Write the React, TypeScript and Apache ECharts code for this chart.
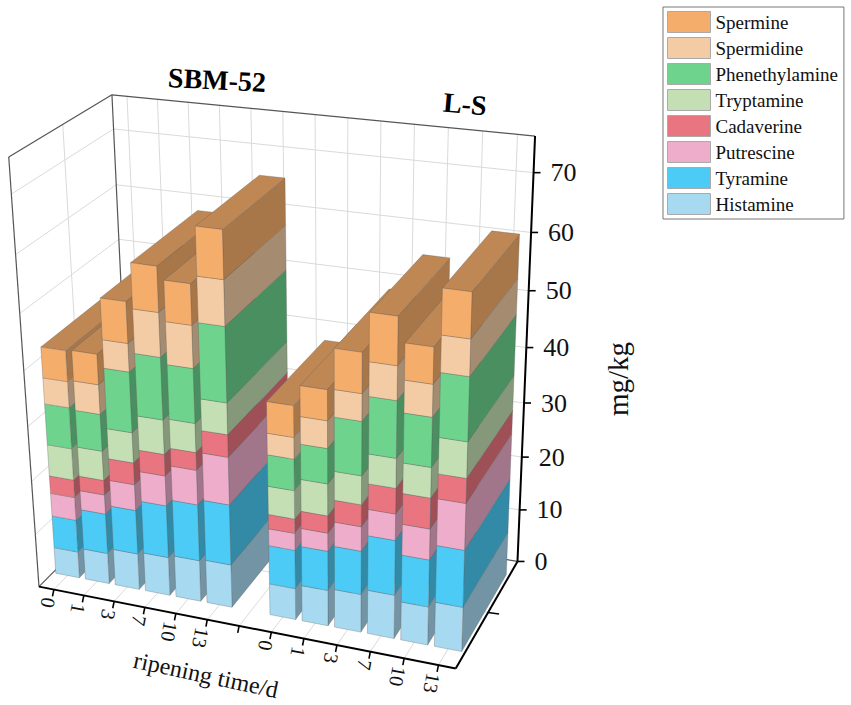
import React, { useEffect, useRef } from 'react';
import * as echarts from 'echarts';

// ---------- data ----------
const timeLabels = ['0', '1', '3', '7', '10', '13'];
const groupNames = ['SBM-52', 'L-S'];
const components = ['Histamine', 'Tyramine', 'Putrescine', 'Cadaverine', 'Tryptamine', 'Phenethylamine', 'Spermidine', 'Spermine'];
// each array: SBM-52 day 0,1,3,7,10,13 then L-S day 0,1,3,7,10,13 (mg/kg)
const histamine = [5.0, 5.8, 6.8, 7.2, 7.7, 8.0, 5.8, 6.6, 7.0, 8.0, 7.0, 8.1];
const tyramine = [6.1, 7.5, 8.2, 9.7, 10.4, 11.1, 7.1, 7.2, 7.9, 9.9, 8.5, 10.2];
const putrescine = [4.3, 3.6, 4.8, 5.5, 6.3, 8.6, 3.1, 3.3, 4.4, 4.7, 5.5, 8.2];
const cadaverine = [3.3, 2.7, 4.0, 3.9, 3.2, 4.0, 2.6, 3.1, 3.9, 4.5, 5.4, 4.3];
const tryptamine = [5.8, 5.4, 5.5, 6.2, 5.2, 5.6, 5.1, 5.7, 5.1, 5.2, 5.3, 6.2];
const phenethylamine = [7.5, 6.7, 10.8, 11.0, 9.6, 13.1, 5.6, 6.2, 9.4, 9.8, 8.5, 10.8];
const spermidine = [4.7, 5.3, 5.0, 7.7, 7.4, 7.8, 3.8, 4.8, 4.7, 5.8, 5.5, 6.1];
const spermine = [5.5, 5.4, 7.2, 7.8, 7.0, 8.2, 5.5, 5.3, 6.9, 8.1, 6.1, 7.5];
const yTicks = [0, 10, 20, 30, 40, 50, 60, 70];
const yMax = 76;

const valuesByComponent = [histamine, tyramine, putrescine, cadaverine, tryptamine, phenethylamine, spermidine, spermine];
const categories = [...timeLabels, '', ...timeLabels];
const barSlots = [0, 1, 2, 3, 4, 5, 7, 8, 9, 10, 11, 12];

// ---------- styling ----------
const COLORS = ['#A7DAF1', '#4BCBF5', '#EEADCB', '#E8757F', '#C4DFB3', '#6DD38D', '#F3CCA5', '#F5AD6B'];
const FONT = '"Liberation Serif", "Times New Roman", serif';
const BAR_RATIO = 0.8;
const DEPTH0 = 0.14;
const DEPTH1 = 0.86;
const GRID_COLOR = '#dadada';
const EDGE_COLOR = '#555';

// ---------- 3D frame calibration (normalized box coords u,v,w -> page px) ----------
const ANCHORS: number[][] = [
  [0, 0, 0, 40, 587],
  [1, 0, 0, 457, 668],
  [1, 0, 1, 517, 562],
  [1, 1, 1, 535, 136],
  [0, 1, 1, 113, 94],
  [0, 1, 0, 8, 158],
  [0.5, 0, 0, 237.3, 625.3],
  [1, 70 / 76, 1, 533.4, 173],
  [1, 30 / 76, 1, 523.8, 403],
  [1, 0, 0.5, 488, 613],
  [0.5, 1, 1, 315, 114.3],
  [0.5 / 13, 0, 0, 53.3, 589.6],
  [12.5 / 13, 0, 0, 439.3, 664.5],
];

function fitProjection(): number[] {
  const rows: number[][] = [];
  const rhs: number[] = [];
  for (const [u, v, w, px, py] of ANCHORS) {
    const x = px / 100, y = py / 100;
    rows.push([u, v, w, 1, 0, 0, 0, 0, -x * u, -x * v, -x * w]);
    rhs.push(x);
    rows.push([0, 0, 0, 0, u, v, w, 1, -y * u, -y * v, -y * w]);
    rhs.push(y);
  }
  const n = 11;
  const N: number[][] = Array.from({ length: n }, () => new Array(n + 1).fill(0));
  for (let r = 0; r < rows.length; r++) {
    for (let i = 0; i < n; i++) {
      for (let j = 0; j < n; j++) N[i][j] += rows[r][i] * rows[r][j];
      N[i][n] += rows[r][i] * rhs[r];
    }
  }
  for (let c = 0; c < n; c++) {
    let piv = c;
    for (let r = c + 1; r < n; r++) if (Math.abs(N[r][c]) > Math.abs(N[piv][c])) piv = r;
    const tmp = N[c]; N[c] = N[piv]; N[piv] = tmp;
    for (let r = 0; r < n; r++) {
      if (r === c) continue;
      const f = N[r][c] / N[c][c];
      for (let k = c; k <= n; k++) N[r][k] -= f * N[c][k];
    }
  }
  return N.map((row, i) => row[n] / row[i]);
}

const PM = fitProjection();
function P(u: number, v: number, w: number): number[] {
  const den = PM[8] * u + PM[9] * v + PM[10] * w + 1;
  return [
    ((PM[0] * u + PM[1] * v + PM[2] * w + PM[3]) / den) * 100,
    ((PM[4] * u + PM[5] * v + PM[6] * w + PM[7]) / den) * 100,
  ];
}

function shade(hex: string, f: number): string {
  const r = parseInt(hex.slice(1, 3), 16), g = parseInt(hex.slice(3, 5), 16), b = parseInt(hex.slice(5, 7), 16);
  const c = (x: number) => Math.max(0, Math.min(255, Math.round(x * f)));
  return `rgb(${c(r)},${c(g)},${c(b)})`;
}

function line(a: number[], b: number[], stroke: string, lineWidth: number, z2: number) {
  return { type: 'line', z2, silent: true, shape: { x1: a[0], y1: a[1], x2: b[0], y2: b[1] }, style: { stroke, lineWidth } };
}

function toUV(api: any, cs: any, xv: number, yv: number): number[] {
  const p = api.coord([xv, yv]);
  return [(p[0] - cs.x) / cs.width, (cs.y + cs.height - p[1]) / cs.height];
}

function norm(a: number[], b: number[]): number[] {
  const dx = b[0] - a[0], dy = b[1] - a[1];
  const l = Math.hypot(dx, dy);
  return [dx / l, dy / l];
}

// ---------- render functions ----------
function renderBar(ci: number) {
  const color = COLORS[ci];
  const edge = 'rgba(95,95,95,0.55)';
  return (params: any, api: any) => {
    const cs = params.coordSys;
    const xi = api.value(0);
    const base = api.value(1);
    const top = api.value(2);
    const isTop = api.value(3) === 1;
    const [u, vb] = toUV(api, cs, xi, base);
    const [, vt] = toUV(api, cs, xi, top);
    const hw = (api.size([1, 0])[0] * BAR_RATIO) / 2 / cs.width;
    const uL = u - hw, uR = u + hw;
    const front = [P(uL, vb, DEPTH0), P(uR, vb, DEPTH0), P(uR, vt, DEPTH0), P(uL, vt, DEPTH0)];
    const side = [P(uR, vb, DEPTH0), P(uR, vb, DEPTH1), P(uR, vt, DEPTH1), P(uR, vt, DEPTH0)];
    const children: any[] = [
      { type: 'polygon', z2: xi * 10 + 1, shape: { points: side }, style: { fill: shade(color, 0.68), stroke: edge, lineWidth: 0.6 } },
    ];
    if (isTop) {
      const topFace = [P(uL, vt, DEPTH0), P(uR, vt, DEPTH0), P(uR, vt, DEPTH1), P(uL, vt, DEPTH1)];
      children.push({ type: 'polygon', z2: xi * 10 + 2, shape: { points: topFace }, style: { fill: shade(color, 0.78), stroke: edge, lineWidth: 0.6 } });
    }
    children.push({ type: 'polygon', z2: xi * 10 + 3, shape: { points: front }, style: { fill: color, stroke: edge, lineWidth: 0.6 } });
    return { type: 'group', children };
  };
}

function renderYFrame(params: any, api: any) {
  const cs = params.coordSys;
  const t = api.value(1);
  const [, v] = toUV(api, cs, 0, t);
  const children: any[] = [];
  if (t > 0) {
    children.push(line(P(0, v, 1), P(1, v, 1), GRID_COLOR, 1, 0));
    children.push(line(P(0, v, 0), P(0, v, 1), GRID_COLOR, 1, 0));
  }
  const a = P(1, v, 1);
  children.push(line(a, [a[0] + 7, a[1]], '#000', 1.6, 6));
  children.push({
    type: 'text', z2: 6, silent: true, x: a[0] + 17, y: a[1],
    style: { text: String(t), fontFamily: FONT, fontSize: 26, fill: '#111', align: 'left', verticalAlign: 'middle' },
  });
  return { type: 'group', children };
}

function renderXFrame(params: any, api: any) {
  const cs = params.coordSys;
  const i = api.value(0);
  const [u] = toUV(api, cs, i, 0);
  const d = norm(P(0, 0, 0), P(1, 0, 0));
  const perp = [-d[1], d[0]];
  const children: any[] = [];
  children.push(line(P(u, 0, 1), P(u, 1, 1), GRID_COLOR, 1, 0));
  children.push(line(P(u, 0, 0), P(u, 0, 1), GRID_COLOR, 1, 0));
  const a = P(u, 0, 0);
  children.push(line(a, [a[0] + perp[0] * 7, a[1] + perp[1] * 7], '#000', 1.6, 6));
  const label = categories[i];
  if (label) {
    children.push({
      type: 'text', z2: 6, silent: true,
      x: a[0] + perp[0] * 9 - d[0] * 3, y: a[1] + perp[1] * 9 - d[1] * 3,
      rotation: -(Math.PI / 2 + Math.atan2(d[1], d[0])),
      style: { text: label, fontFamily: FONT, fontSize: 20, fill: '#111', align: 'left', verticalAlign: 'middle' },
    });
  }
  return { type: 'group', children };
}

function renderBox() {
  const children: any[] = [];
  children.push(line(P(0, 0, 0.5), P(0, 1, 0.5), GRID_COLOR, 1, 0));
  children.push(line(P(0, 0, 0.5), P(1, 0, 0.5), GRID_COLOR, 1, 0));
  const edges: number[][][] = [
    [[0, 0, 0], [0, 1, 0]],
    [[0, 1, 0], [0, 1, 1]],
    [[0, 0, 1], [0, 1, 1]],
    [[0, 1, 1], [1, 1, 1]],
    [[0, 0, 0], [0, 0, 1]],
    [[0, 0, 1], [1, 0, 1]],
  ];
  for (const [a, b] of edges) children.push(line(P(a[0], a[1], a[2]), P(b[0], b[1], b[2]), EDGE_COLOR, 1.2, 5));
  const axes: number[][][] = [
    [[0, 0, 0], [1, 0, 0]],
    [[1, 0, 0], [1, 0, 1]],
    [[1, 0, 1], [1, 1, 1]],
  ];
  for (const [a, b] of axes) children.push(line(P(a[0], a[1], a[2]), P(b[0], b[1], b[2]), '#000', 2, 6));
  const m = P(1, 0, 0.5);
  children.push(line(m, [m[0] + 11, m[1] + 1.5], '#000', 1.6, 6));
  return { type: 'group', children };
}

function buildOption(): any {
  const series: any[] = [];
  series.push({
    type: 'custom', name: '_box', z: 1, silent: true, animation: false,
    data: [[0, 0]], renderItem: () => renderBox(),
  });
  series.push({
    type: 'custom', name: '_yframe', z: 1, silent: true, animation: false,
    data: yTicks.map((t) => [0, t]), renderItem: renderYFrame,
  });
  series.push({
    type: 'custom', name: '_xframe', z: 1, silent: true, animation: false,
    data: categories.map((_, i) => [i, 0]), renderItem: renderXFrame,
  });
  components.forEach((name, ci) => {
    const data = barSlots.map((slot, bi) => {
      let base = 0;
      for (let k = 0; k < ci; k++) base += valuesByComponent[k][bi];
      return [slot, base, base + valuesByComponent[ci][bi], ci === components.length - 1 ? 1 : 0];
    });
    series.push({
      type: 'custom', name, z: 2, silent: true, animation: false,
      itemStyle: { color: COLORS[ci] },
      encode: { x: 0, y: 1 },
      data, renderItem: renderBar(ci),
    });
  });

  return {
    animation: false,
    backgroundColor: '#fff',
    grid: { left: 0, top: 0, width: 500, height: 500, show: false },
    xAxis: { type: 'category', data: categories, show: false },
    yAxis: { type: 'value', min: 0, max: yMax, show: false },
    legend: {
      data: [...components].reverse(),
      orient: 'vertical', left: 663, top: 7,
      itemWidth: 43, itemHeight: 21, itemGap: 4, icon: 'rect',
      padding: [4, 6, 4, 4], borderColor: '#777', borderWidth: 1,
      selectedMode: false,
      itemStyle: { borderColor: '#aaa', borderWidth: 1 },
      textStyle: { fontFamily: FONT, fontSize: 19, color: '#111' },
    },
    graphic: [
      { type: 'text', x: 217, y: 80, rotation: -0.05, style: { text: groupNames[0], fontFamily: FONT, fontWeight: 'bold', fontSize: 28, fill: '#000', align: 'center', verticalAlign: 'middle' } },
      { type: 'text', x: 465, y: 104, rotation: -0.09, style: { text: groupNames[1], fontFamily: FONT, fontWeight: 'bold', fontSize: 28, fill: '#000', align: 'center', verticalAlign: 'middle' } },
      { type: 'text', x: 618, y: 379, rotation: Math.PI / 2, style: { text: 'mg/kg', fontFamily: FONT, fontSize: 29, fill: '#111', align: 'center', verticalAlign: 'middle' } },
      { type: 'text', x: 206, y: 675, rotation: -0.21, style: { text: 'ripening time/d', fontFamily: FONT, fontSize: 24, fill: '#111', align: 'center', verticalAlign: 'middle' } },
    ],
    series,
  };
}

export default function App() {
  const ref = useRef<HTMLDivElement>(null);
  useEffect(() => {
    document.body.style.margin = '0';
    const chart = echarts.init(ref.current as HTMLDivElement, null, { renderer: 'svg' });
    chart.setOption(buildOption());
    return () => chart.dispose();
  }, []);
  return <div ref={ref} style={{ position: 'fixed', left: 0, top: 0, width: 851, height: 705, background: '#fff' }} />;
}
